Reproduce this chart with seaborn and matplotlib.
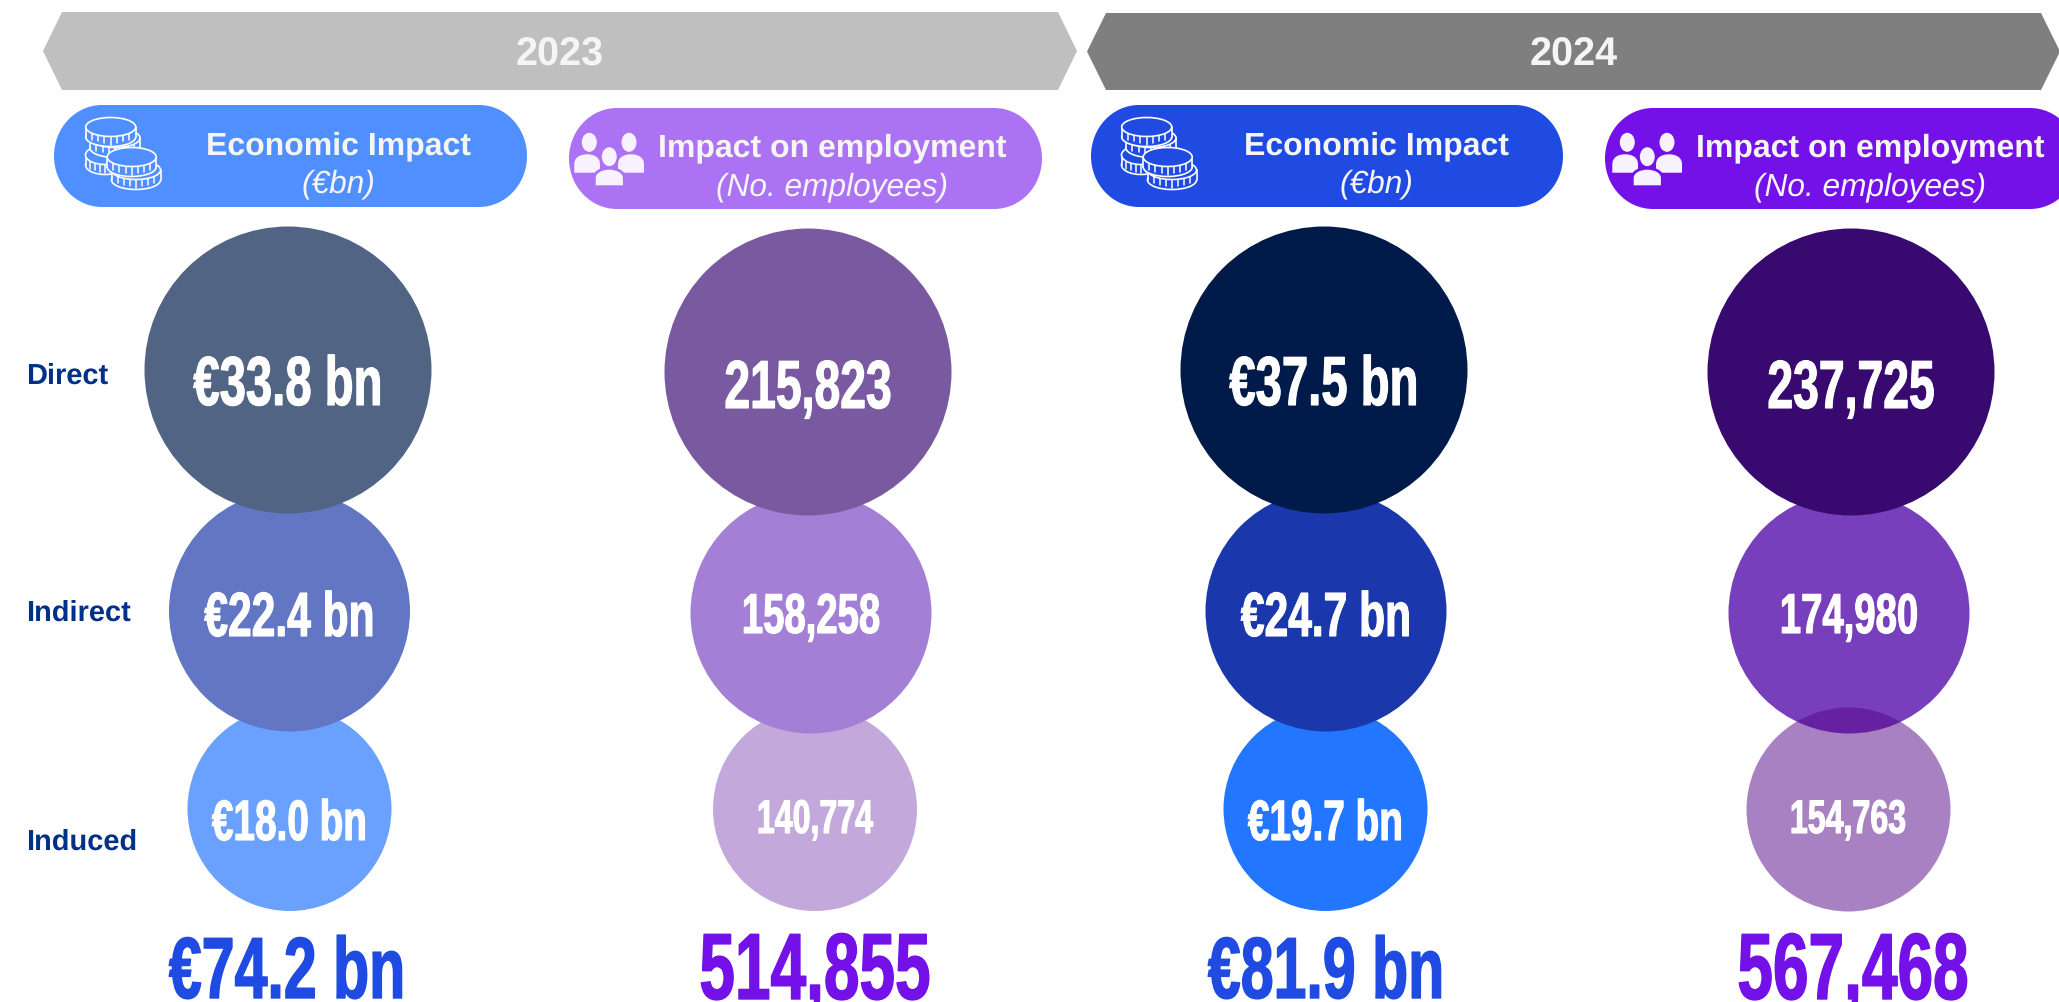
import os
import tempfile

import matplotlib
matplotlib.use('Agg')
import matplotlib.pyplot as plt
import matplotlib.patheffects as pe
import pandas as pd
import seaborn as sns
from fontTools.ttLib import TTFont
from matplotlib import font_manager
from matplotlib.patches import Ellipse, PathPatch, Polygon, Rectangle
from matplotlib.path import Path

# values
years = ['2023', '2024']
tiers = ['Direct', 'Indirect', 'Induced']
economic_2023 = [33.8, 22.4, 18.0]
employment_2023 = [215823, 158258, 140774]
economic_2024 = [37.5, 24.7, 19.7]
employment_2024 = [237725, 174980, 154763]
economic_totals = [74.2, 81.9]
employment_totals = [514855, 567468]
economic_title = 'Economic Impact'
economic_unit = '(€bn)'
employment_title = 'Impact on employment'
employment_unit = '(No. employees)'

WIDTH, HEIGHT = 2059, 1002
COL_X = {
    'Direct': {'eco23': 288, 'emp23': 808, 'eco24': 1324, 'emp24': 1851},
    'Indirect': {'eco23': 289.5, 'emp23': 811, 'eco24': 1326, 'emp24': 1849},
    'Induced': {'eco23': 289.5, 'emp23': 815, 'eco24': 1325.5, 'emp24': 1848},
}
TIER_Y = {'Direct': 370, 'Indirect': 611, 'Induced': 809}
TIER_D = {'Direct': 287, 'Indirect': 241, 'Induced': 204}
BLUE, PURPLE = '#1F4BE3', '#7311E8'
CIRCLE_COLORS = {
    ('eco23', 'Direct'): '#516483', ('eco23', 'Indirect'): '#6276C3', ('eco23', 'Induced'): '#6AA1FF',
    ('emp23', 'Direct'): '#795AA0', ('emp23', 'Indirect'): '#A37FD5', ('emp23', 'Induced'): '#C3A9DB',
    ('eco24', 'Direct'): '#001A4A', ('eco24', 'Indirect'): '#1A38AC', ('eco24', 'Induced'): '#2276FF',
    ('emp24', 'Direct'): '#380A70', ('emp24', 'Indirect'): '#783FBD', ('emp24', 'Induced'): '#530589',
}
# text size in points per column and tier
TEXT_SIZE = {
    ('eco', 'Direct'): 50, ('eco', 'Indirect'): 45, ('eco', 'Induced'): 41,
    ('emp', 'Direct'): 49, ('emp', 'Indirect'): 40.5, ('emp', 'Induced'): 34,
}
TEXT_BASE = {
    ('eco', 'Direct'): 405, ('eco', 'Indirect'): 636, ('eco', 'Induced'): 840,
    ('emp', 'Direct'): 408, ('emp', 'Indirect'): 633, ('emp', 'Induced'): 833,
}


def condensed_font(squeeze=0.83):
    # no Bebas style font here, so squeeze the narrow bold one
    names = {f.name for f in font_manager.fontManager.ttflist}
    if 'Liberation Sans Narrow' in names:
        path = font_manager.findfont(font_manager.FontProperties(family='Liberation Sans Narrow', weight='bold'))
    else:
        path = font_manager.findfont(font_manager.FontProperties(family='Liberation Sans', weight='bold'))
        squeeze = squeeze * 0.82
    font = TTFont(path)
    glyf = font['glyf']
    hmtx = font['hmtx']
    for name in font.getGlyphOrder():
        glyph = glyf[name]
        if glyph.isComposite():
            for comp in glyph.components:
                comp.x = int(comp.x * squeeze)
        elif glyph.numberOfContours > 0:
            glyph.coordinates.scale((squeeze, 1))
            glyph.coordinates.toInt()
        glyph.recalcBounds(glyf)
        adv, lsb = hmtx.metrics[name]
        hmtx.metrics[name] = (int(adv * squeeze), int(lsb * squeeze))
    for table in ['hdmx', 'VDMX', 'LTSH', 'kern', 'GPOS']:
        if table in font:
            del font[table]
    out = os.path.join(tempfile.mkdtemp(), 'condensed.ttf')
    font.save(out)
    return font_manager.FontProperties(fname=out)


def draw_arrow(ax, x0, x1, tip, y0, y1, color):
    mid = (y0 + y1) / 2
    ax.add_patch(Polygon([(x0 - tip, mid), (x0, y0), (x1, y0), (x1 + tip, mid), (x1, y1), (x0, y1)],
                         closed=True, facecolor=color, edgecolor='none', zorder=1))


def draw_pill(ax, x0, x1, y0, y1, color):
    rx, ry = 48, (y1 - y0) / 2
    k = 0.5523
    ym = (y0 + y1) / 2
    verts = [
        (x0 + rx, y0), (x1 - rx, y0),
        (x1 - rx + k * rx, y0), (x1, ym - k * ry), (x1, ym),
        (x1, ym + k * ry), (x1 - rx + k * rx, y1), (x1 - rx, y1),
        (x0 + rx, y1),
        (x0 + rx - k * rx, y1), (x0, ym + k * ry), (x0, ym),
        (x0, ym - k * ry), (x0 + rx - k * rx, y0), (x0 + rx, y0),
    ]
    codes = [Path.MOVETO, Path.LINETO] + [Path.CURVE4] * 6 + [Path.LINETO] + [Path.CURVE4] * 6
    ax.add_patch(PathPatch(Path(verts, codes), facecolor=color, edgecolor='none', zorder=1))


def draw_coin(ax, cx, cy, rx, ry, side, color):
    lw = 1.2
    ax.add_patch(Ellipse((cx, cy + side), 2 * rx, 2 * ry, facecolor=color, edgecolor='white', lw=lw, zorder=2))
    ax.add_patch(Rectangle((cx - rx, cy), 2 * rx, side, facecolor=color, edgecolor='none', zorder=2))
    ax.plot([cx - rx, cx - rx], [cy, cy + side], color='white', lw=lw, zorder=2)
    ax.plot([cx + rx, cx + rx], [cy, cy + side], color='white', lw=lw, zorder=2)
    for i in range(1, 8):
        x = cx - rx + i * rx / 4
        ax.plot([x, x], [cy + 7, cy + side + 8 - abs(x - cx) / 3.5], color='white', lw=1.1, zorder=2)
    ax.add_patch(Ellipse((cx, cy), 2 * rx, 2 * ry, facecolor=color, edgecolor='white', lw=lw, zorder=2))


def draw_coins(ax, x, y, color):
    # five coins, back to front
    for cx, cy, rx in [(35, 50, 19.5), (45, 33, 25), (40.7, 22, 25), (66, 65, 24.5), (61.7, 52, 24.5)]:
        draw_coin(ax, x + cx, y + cy, rx, 9.5, 10, color)


def draw_body(ax, x0, x1, y0, y1, edge='none'):
    mid = (x0 + x1) / 2
    verts = [(x0, y1), (x0, y0 + 10), (x0, y0 + 3), (mid - 7, y0), (mid, y0),
             (mid + 7, y0), (x1, y0 + 3), (x1, y0 + 10), (x1, y1), (x0, y1)]
    codes = [Path.MOVETO, Path.LINETO, Path.CURVE4, Path.CURVE4, Path.CURVE4,
             Path.CURVE4, Path.CURVE4, Path.CURVE4, Path.LINETO, Path.CLOSEPOLY]
    ax.add_patch(PathPatch(Path(verts, codes), facecolor='#F7F2FD', edgecolor=edge, lw=2, zorder=2))


def draw_people(ax, x, y, color):
    for hx, bx0, bx1 in [(24.3, 9.3, 35), (64, 53, 79)]:
        ax.add_patch(Ellipse((x + hx, y + 37.3), 15, 19, facecolor='#F7F2FD', edgecolor='none', zorder=2))
        draw_body(ax, x + bx0, x + bx1, y + 49.3, y + 67.7)
    draw_body(ax, x + 29.3, x + 59.3, y + 63.3, y + 81.7, edge=color)
    ax.add_patch(Ellipse((x + 44.3, y + 51.7), 17, 21, facecolor='#F7F2FD', edgecolor=color, lw=1.5, zorder=2))


sns.set_theme(style='white')
plt.rcParams['font.family'] = ['Liberation Sans', 'DejaVu Sans']
plt.rcParams['text.hinting'] = 'none'
display_font = condensed_font()

columns = {'eco23': economic_2023, 'emp23': employment_2023, 'eco24': economic_2024, 'emp24': employment_2024}
rows = []
for key, values in columns.items():
    for tier, value in zip(tiers, values):
        kind = key[:3]
        rows.append({
            'column': key,
            'kind': kind,
            'tier': tier,
            'value': value,
            'label': f'€{value:.1f} bn' if kind == 'eco' else f'{value:,}',
            'hue': f'{key}-{tier}',
            'x': COL_X[tier][key],
            'y': TIER_Y[tier] + (2 if kind == 'emp' and tier != 'Induced' else 0),
        })
df = pd.DataFrame(rows)
palette = {f'{k[0]}-{k[1]}': c for k, c in CIRCLE_COLORS.items()}
sizes = {t: (d * 0.72) ** 2 for t, d in TIER_D.items()}

fig = plt.figure(figsize=(WIDTH / 100, HEIGHT / 100), dpi=100)
ax = fig.add_axes([0, 0, 1, 1])

# induced at the back, direct in front; the last induced circle is see-through and sits on top of indirect
see_through = (df['column'] == 'emp24') & (df['tier'] == 'Induced')
order = {'Induced': 0, 'Indirect': 1, 'Direct': 3}
for tier in ['Induced', 'Indirect']:
    sns.scatterplot(data=df[(df['tier'] == tier) & ~see_through], x='x', y='y', hue='hue', palette=palette,
                    size='tier', sizes=sizes, linewidth=0, legend=False, ax=ax, zorder=order[tier])
sns.scatterplot(data=df[see_through], x='x', y='y', hue='hue', palette=palette, size='tier', sizes=sizes,
                linewidth=0, alpha=0.5, legend=False, ax=ax, zorder=2)
sns.scatterplot(data=df[df['tier'] == 'Direct'], x='x', y='y', hue='hue', palette=palette, size='tier', sizes=sizes,
                linewidth=0, legend=False, ax=ax, zorder=order['Direct'])

ax.set_xlim(0, WIDTH)
ax.set_ylim(HEIGHT, 0)
ax.axis('off')

for _, row in df.iterrows():
    t = ax.text(row['x'], TEXT_BASE[(row['kind'], row['tier'])], row['label'], color='white', ha='center',
                va='baseline', fontproperties=display_font, fontsize=TEXT_SIZE[(row['kind'], row['tier'])], zorder=5)
    t.set_path_effects([pe.withStroke(linewidth=0.8, foreground='white')])

# year banners
draw_arrow(ax, 62, 1058, 19, 12, 90, '#BFBFBF')
draw_arrow(ax, 1106, 2041, 19, 13, 90, '#7F7F7F')
for year, x in zip(years, [560, 1574]):
    ax.text(x, 66, year, color='#F5F5F5', ha='center', va='baseline', fontsize=28.5, fontweight='bold', zorder=5)

# column headers
draw_pill(ax, 54, 527, 105, 207, '#508FFF')
draw_pill(ax, 569, 1042, 108, 209, '#AB72F3')
draw_pill(ax, 1091, 1563, 105, 207, BLUE)
draw_pill(ax, 1605, 2078, 108, 209, PURPLE)
draw_coins(ax, 70, 105, '#508FFF')
draw_coins(ax, 1106, 105, BLUE)
draw_people(ax, 565, 105, '#AB72F3')
draw_people(ax, 1603, 105, PURPLE)
for x in [338, 1376]:
    ax.text(x, 154, economic_title, color='#F5F5F5', ha='center', va='baseline', fontsize=23, fontweight='bold', zorder=5)
    ax.text(x, 192, economic_unit, color='#F5F5F5', ha='center', va='baseline', fontsize=22.8, style='italic', zorder=5)
for x in [832, 1870]:
    ax.text(x, 156, employment_title, color='#F5F5F5', ha='center', va='baseline', fontsize=23, fontweight='bold', zorder=5)
    ax.text(x, 195, employment_unit, color='#F5F5F5', ha='center', va='baseline', fontsize=22.8, style='italic', zorder=5)

# row labels
for tier, y in zip(tiers, [384, 621, 850]):
    ax.text(26, y, tier, color='#003087', ha='left', va='baseline', fontsize=20.9, fontweight='bold', zorder=5)

# totals under each column
for value, x in zip(economic_totals, [287, 1326]):
    t = ax.text(x, 998, f'€{value:.1f} bn', color=BLUE, ha='center', va='baseline', fontproperties=display_font,
                fontsize=62.5, zorder=5)
    t.set_path_effects([pe.withStroke(linewidth=1.0, foreground=BLUE)])
for value, x in zip(employment_totals, [815, 1853]):
    t = ax.text(x, 999, f'{value:,}', color=PURPLE, ha='center', va='baseline', fontproperties=display_font,
                fontsize=67.7, zorder=5)
    t.set_path_effects([pe.withStroke(linewidth=1.0, foreground=PURPLE)])

fig.savefig('out.png', dpi=100, facecolor='white')
